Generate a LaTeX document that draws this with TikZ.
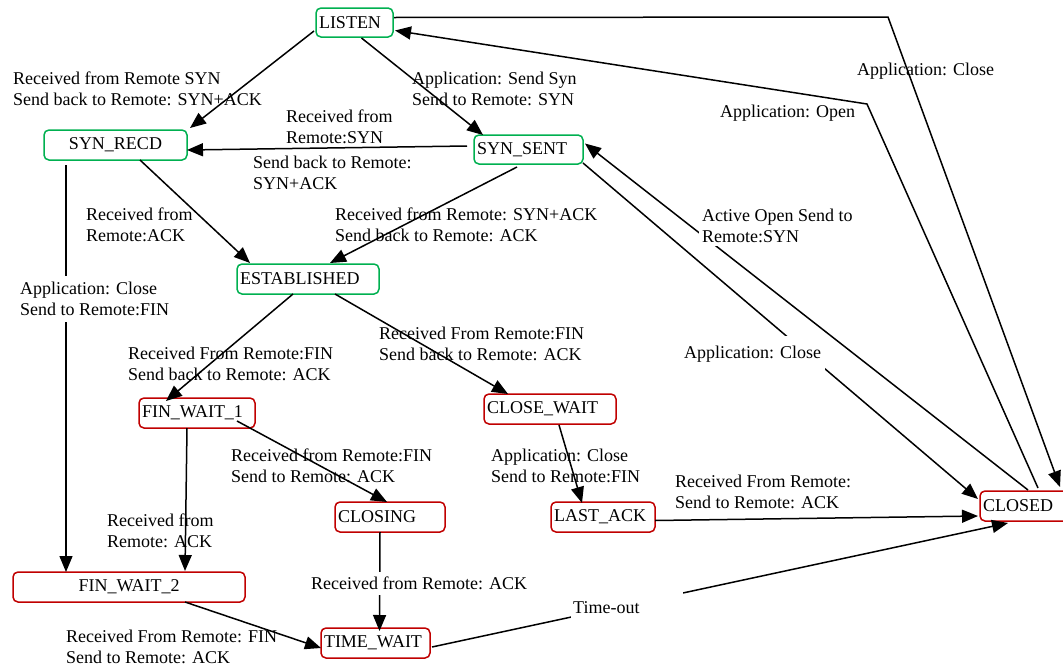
\documentclass[tikz,border=0pt]{standalone}
\usepackage{fontspec}
\setmainfont{Liberation Serif}
\usetikzlibrary{arrows.meta,calc}
\definecolor{stgreen}{RGB}{0,176,80}
\definecolor{stred}{RGB}{192,0,0}
\begin{document}
\begin{tikzpicture}[x=1pt,y=-1pt,
  font=\fontsize{18}{21}\selectfont,
  box/.style={draw, rounded corners=5pt, line width=1.5pt, anchor=north west,
    inner xsep=3pt, inner ysep=0pt, outer sep=0pt, align=left},
  okbox/.style={box, draw=stgreen},
  endbox/.style={box, draw=stred},
  arr/.style={line width=1.5pt, -{Triangle[length=16pt,width=13pt]}},
  ln/.style={line width=1.5pt},
  lbl/.style={anchor=north west, inner sep=0pt, align=left},
  wlbl/.style={anchor=north west, inner sep=3pt, align=left, fill=white}]
\useasboundingbox (0,0) rectangle (1063,667);

% states
\node[okbox, text width=71pt, minimum height=29pt] (LISTEN) at (316,8) {LISTEN};
\node[okbox, text width=137pt, minimum height=30pt, align=center] (SYNR) at (44,130) {SYN\_RECD};
\node[okbox, text width=103pt, minimum height=29pt] (SYNS) at (474,135) {SYN\_SENT};
\node[okbox, text width=136pt, minimum height=30pt] (EST) at (237,264) {ESTABLISHED};
\node[endbox, text width=110pt, minimum height=30pt] (FW1) at (139,398) {FIN\_WAIT\_1};
\node[endbox, text width=126pt, minimum height=30pt] (CW) at (484,394) {CLOSE\_WAIT};
\node[endbox, text width=104pt, minimum height=30pt] (CLG) at (335,502) {CLOSING};
\node[endbox, text width=98pt, minimum height=30pt] (LA) at (551,502) {LAST\_ACK};
\node[endbox, text width=84pt, minimum height=30pt] (CLD) at (980,491) {CLOSED};
\node[endbox, text width=226pt, minimum height=30pt, align=center] (FW2) at (13,572) {FIN\_WAIT\_2};
\node[endbox, text width=103pt, minimum height=30pt] (TW) at (321,628) {TIME\_WAIT};

\coordinate (c1) at (888,17);
\coordinate (c2) at (867,104);

% connectors
\draw[arr] ($(LISTEN.south west)+(-2,-6)$) -- ($(SYNR.north east)+(3,-2)$);
\draw[arr] ($(LISTEN.south)+(7,1)$) -- ($(SYNS.north west)+(9,0)$);
\draw[arr] ($(SYNS.west)+(-7,-3.5)$) -- ($(SYNR.east)+(0,5)$);
\draw[arr] ($(SYNR.south)+(24.5,0)$) -- ($(EST.north west)+(13,-1)$);
\draw[arr] ($(SYNS.south)+(-11.5,3)$) -- ($(EST.north)+(22,-1)$);
\draw[arr] ($(SYNR.south west)+(22,5)$) -- ($(FW2.north west)+(53,0)$);
\draw[arr] ($(EST.south)+(-15,0)$) -- ($(FW1.north west)+(27,3)$);
\draw[arr] ($(EST.south)+(27,0)$) -- ($(CW.north west)+(24,0)$);
\draw[arr] ($(FW1.south west)+(48,0)$) -- ($(FW2.north west)+(172,-1)$);
\draw[arr] ($(FW1.south east)+(-18,-7)$) -- ($(CLG.north)+(-3,0)$);
\draw[arr] ($(CLG.south)+(-10,0)$) -- ($(TW.north)+(4,3)$);
\draw[arr] ($(FW2.south)+(56,0)$) -- ($(TW.west)+(0,5)$);
\draw[arr] ($(CW.south)+(9,1)$) -- ($(LA.north west)+(31,1)$);
\draw[arr] ($(LA.east)+(0,3.5)$) -- ($(CLD.west)+(-2,10)$);
\draw[arr] ($(TW.east)+(2,4)$) -- ($(CLD.south west)+(28,2)$);
\draw[arr] ($(SYNS.south east)+(0,-1)$) -- ($(CLD.north west)+(-2,8)$);
\draw[arr] ($(CLD.north west)+(48,-1)$) -- ($(SYNS.east)+(2,-6)$);
\draw[arr] ($(CLD.north west)+(58,-3)$) -- (c2) -- ($(LISTEN.east)+(2,8)$);
\draw[arr] ($(LISTEN.east)+(1,-5)$) -- (c1) -- ($(CLD.north west)+(80,-4)$);

% labels
\node[lbl] (l1) at (13,72) {Received from Remote SYN\\Send back to Remote: SYN+ACK};
\node[lbl] (l2) at (412,72) {Application: Send Syn\\Send to Remote: SYN};
\node[lbl] (l3) at (286,110) {Received from\\Remote:SYN};
\node[lbl] (l4) at (253,156) {Send back to Remote:\\SYN+ACK};
\node[lbl] (l5) at (86,208) {Received from\\Remote:ACK};
\node[lbl] (l6) at (335,208) {Received from Remote: SYN+ACK\\Send back to Remote: ACK};
\node[wlbl, inner ysep=6pt] (l7) at (17,276) {Application: Close\\Send to Remote:FIN};
\node[lbl] (l8) at (128,347) {Received From Remote:FIN\\Send back to Remote: ACK};
\node[lbl] (l9) at (379,327) {Received From Remote:FIN\\Send back to Remote: ACK};
\node[lbl] (l10) at (231,449) {Received from Remote:FIN\\Send to Remote: ACK};
\node[lbl] (l11) at (107,514) {Received from\\Remote: ACK};
\node[wlbl, inner ysep=5pt] (l12) at (308,572) {Received from Remote: ACK};
\node[lbl] (l13) at (66,630) {Received From Remote: FIN\\Send to Remote: ACK};
\node[lbl] (l14) at (491,449) {Application: Close\\Send to Remote:FIN};
\node[lbl] (l15) at (675,475) {Received From Remote:\\Send to Remote: ACK};
\node[wlbl, inner xsep=2pt, inner ysep=0pt, minimum height=35pt, text width=108pt] (l16) at (571,590) {Time-out};
\node[wlbl, inner xsep=4pt, inner ysep=10pt] (l17) at (680,336) {Application: Close};
\node[wlbl] (l18) at (699,206) {Active Open Send to\\Remote:SYN};
\node[lbl] (l19) at (720,105) {Application: Open};
\node[lbl] (l20) at (857,63) {Application: Close};
\end{tikzpicture}
\end{document}
